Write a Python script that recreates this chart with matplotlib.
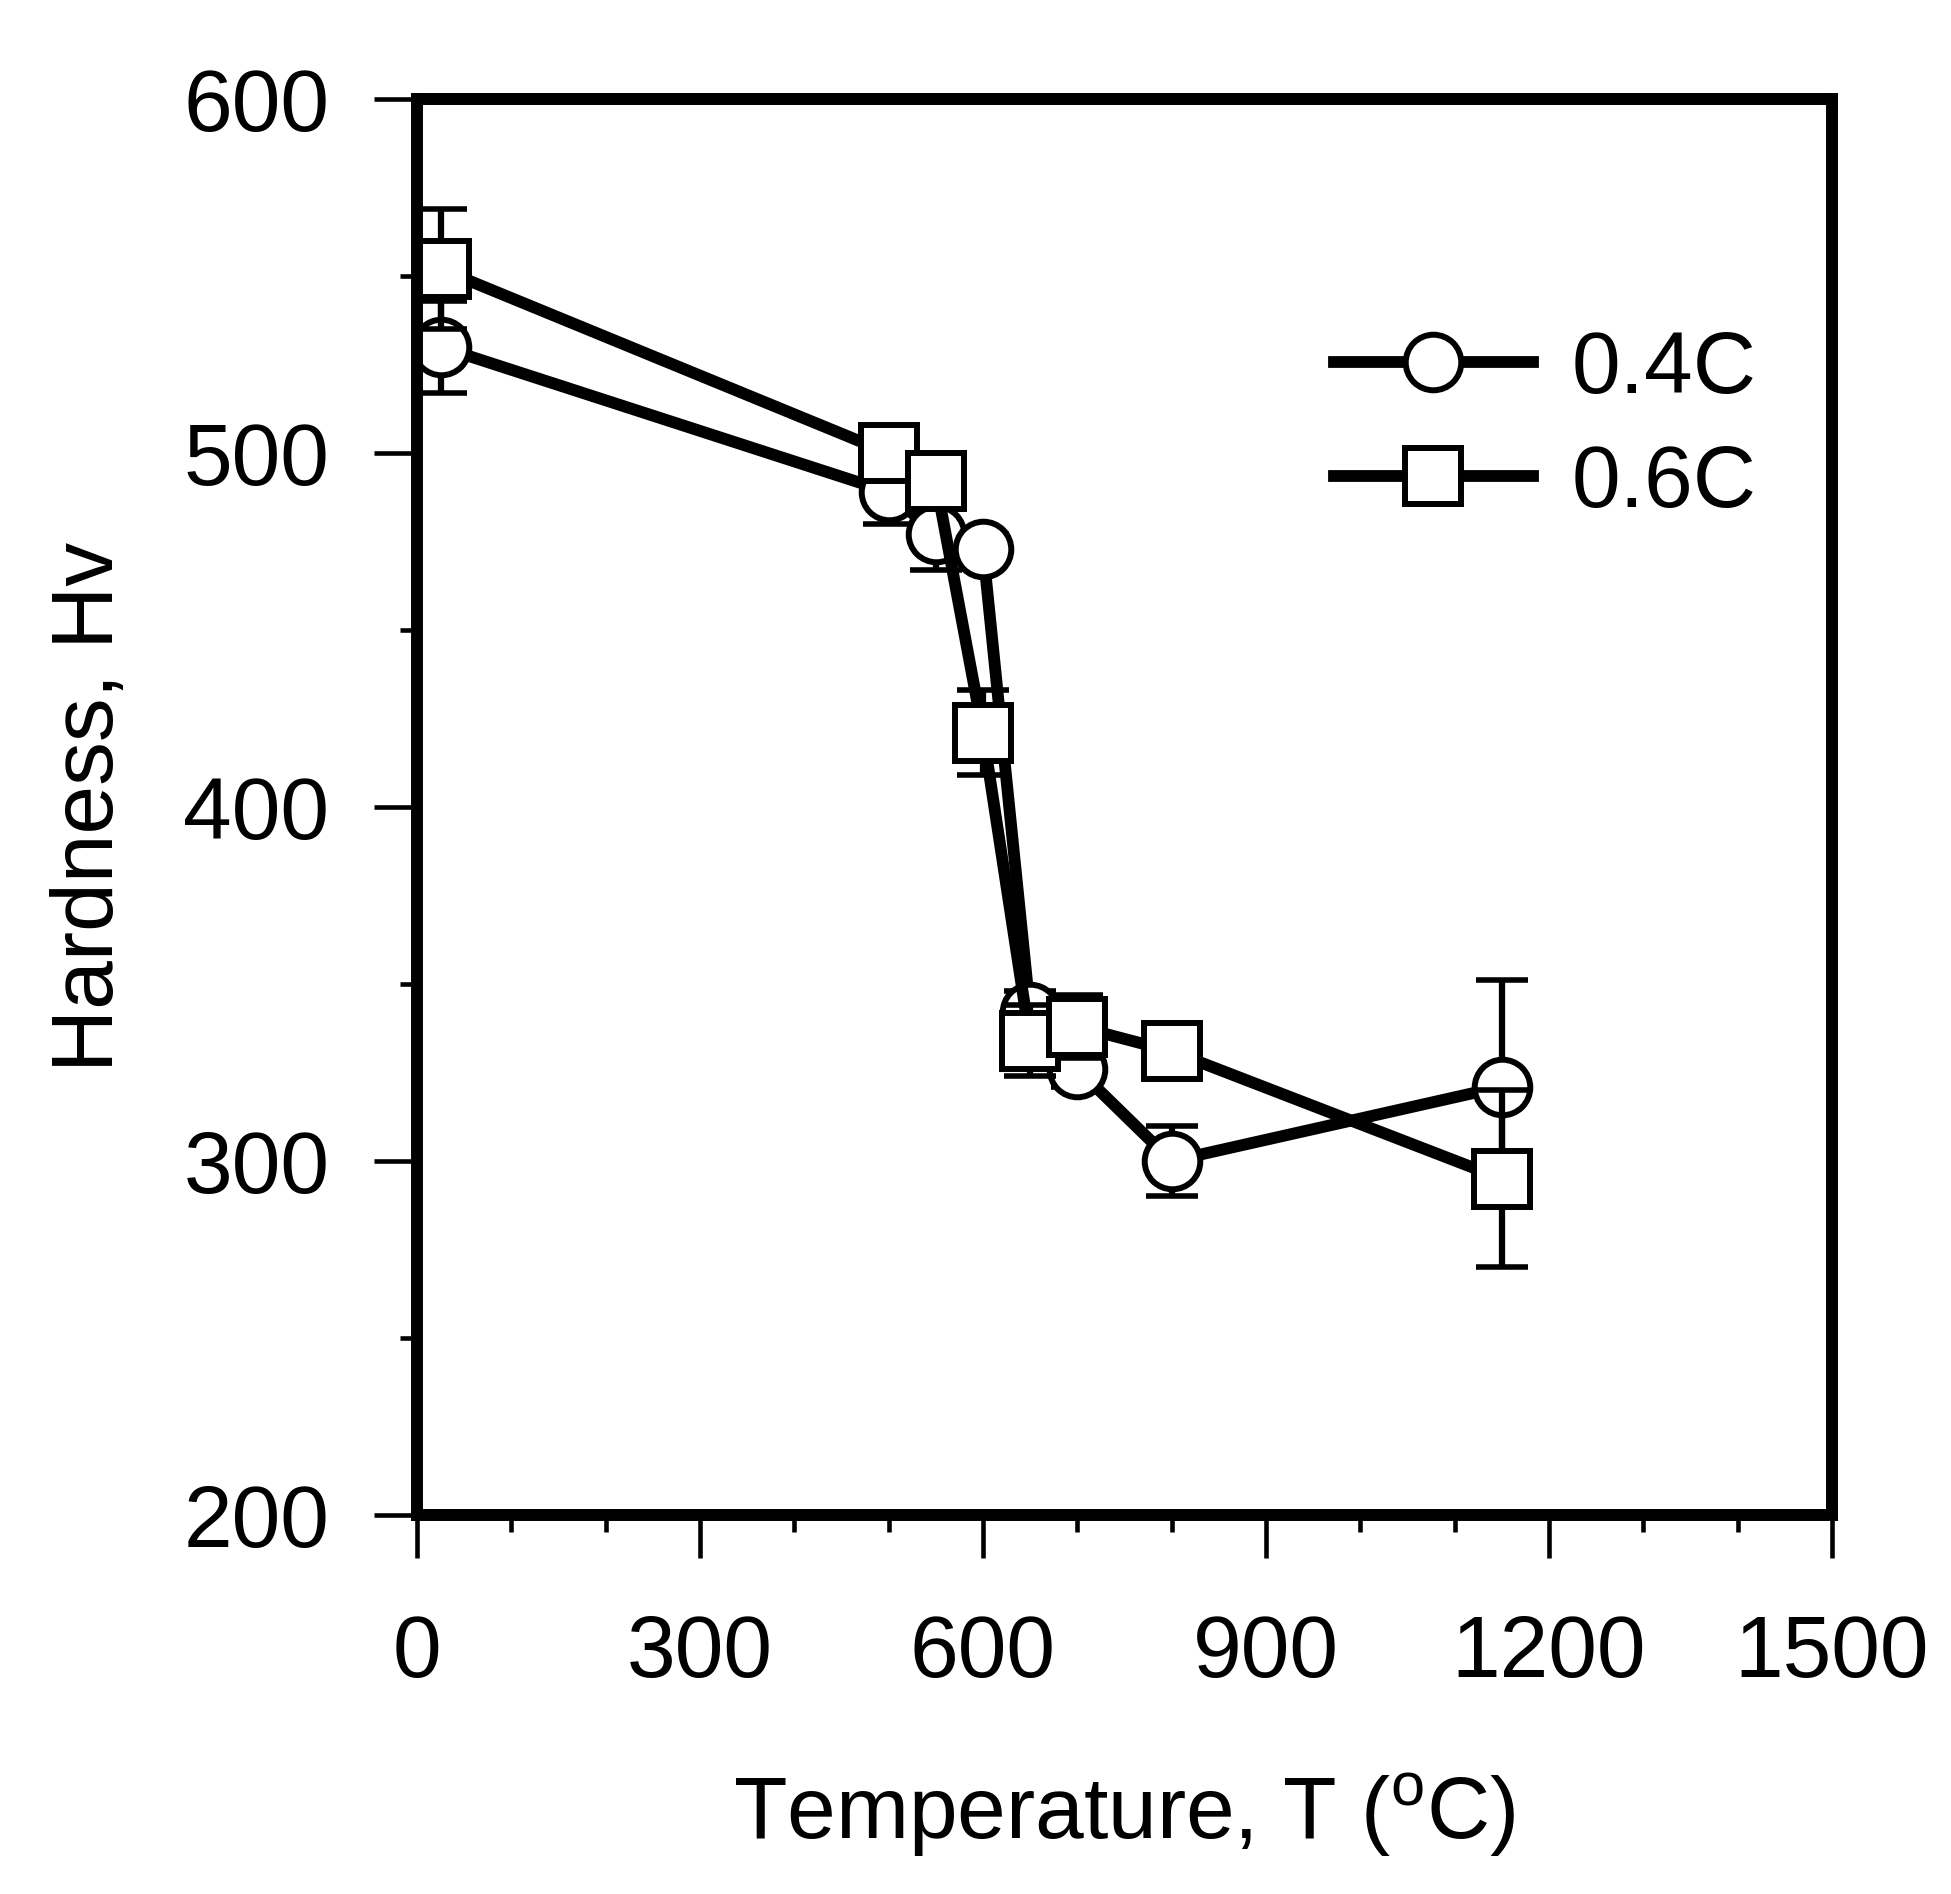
import numpy as np
import matplotlib
matplotlib.use("Agg")
import matplotlib.pyplot as plt
from matplotlib.ticker import MultipleLocator

plt.rcParams['font.family'] = ['Liberation Sans', 'DejaVu Sans']
plt.rcParams['mathtext.default'] = 'regular'

# temperature (C) and hardness (Hv)
temp_04 = [25, 500, 550, 600, 650, 700, 800, 1150]
hv_04 = [530, 489, 477, 473, 342, 326, 300, 321]
err_04 = [13, 9, 10, 4, 6, 5, 10, 30]

temp_06 = [25, 500, 550, 600, 650, 700, 800, 1150]
hv_06 = [552, 500, 492, 421, 334, 338, 331, 295]
err_06 = [17, 4, 6, 12, 10, 9, 4, 25]

labels = ['0.4C', '0.6C']

fig = plt.figure(figsize=(19.51, 18.94), dpi=100)
ax = fig.add_axes([0.2137, 0.2001, 0.7253, 0.7476])

fs = 63
lw = 8.5
ms = 40
mew = 4.3

ax.errorbar(temp_04, hv_04, yerr=err_04, fmt='none', ecolor='black',
            elinewidth=4.5, capsize=19, capthick=4, zorder=2)
ax.plot(temp_04, hv_04, '-', color='black', lw=lw, marker='o', ms=ms,
        mfc='white', mec='black', mew=mew, label=labels[0], zorder=2.1)

ax.errorbar(temp_06, hv_06, yerr=err_06, fmt='none', ecolor='black',
            elinewidth=4.5, capsize=19, capthick=4, zorder=2.2)
ax.plot(temp_06, hv_06, '-', color='black', lw=lw, marker='s', ms=ms,
        mfc='white', mec='black', mew=mew, label=labels[1], zorder=2.3)

ax.set_xlim(0, 1500)
ax.set_ylim(200, 600)
ax.xaxis.set_major_locator(MultipleLocator(300))
ax.xaxis.set_minor_locator(MultipleLocator(100))
ax.yaxis.set_major_locator(MultipleLocator(100))
ax.yaxis.set_minor_locator(MultipleLocator(50))

for s in ax.spines.values():
    s.set_linewidth(8.6)

ax.tick_params(which='major', direction='out', length=31, width=3.3,
               labelsize=fs)
ax.tick_params(axis='x', which='major', pad=40)
ax.tick_params(axis='y', which='major', pad=32)
ax.tick_params(which='minor', direction='out', length=12, width=3.3)

ax.set_xlabel('Temperature, T ($^{o}$C)', fontsize=fs, labelpad=56)
ax.set_ylabel('Hardness, Hv', fontsize=fs, labelpad=38)

ax.legend(loc='upper left', bbox_to_anchor=(0.648, 0.837), frameon=False,
          fontsize=fs, handlelength=2.27, handletextpad=0.45,
          labelspacing=0.38, borderpad=0, borderaxespad=0)

fig.savefig('out.png', dpi=100)
